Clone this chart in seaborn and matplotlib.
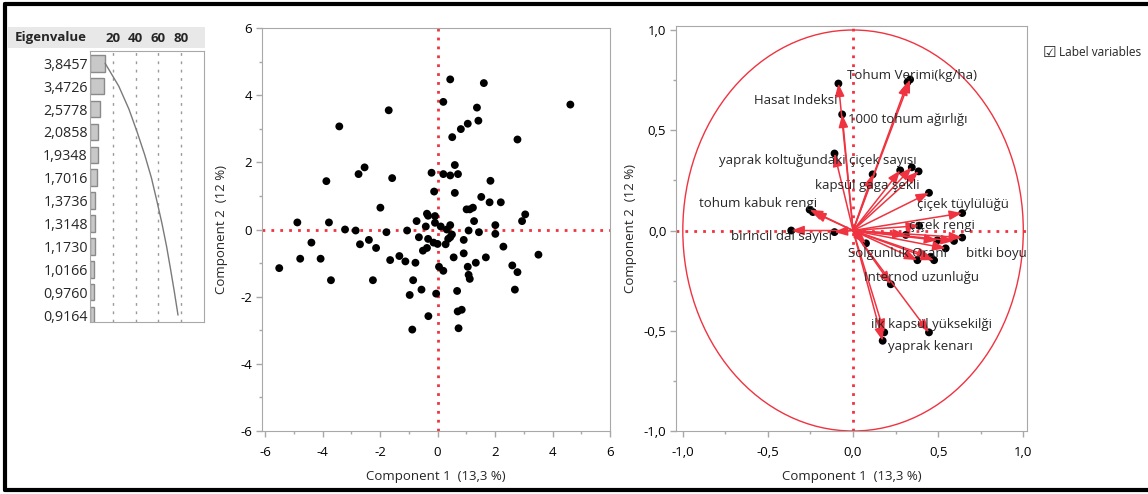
import numpy as np
import pandas as pd
import matplotlib
matplotlib.use("Agg")
import matplotlib.pyplot as plt
from matplotlib.patches import Ellipse, Rectangle
from matplotlib.lines import Line2D
from matplotlib.ticker import MultipleLocator, FuncFormatter
import seaborn as sns

# ---------------- data ----------------
eigenvalues = [3.8457, 3.4726, 2.5778, 2.0858, 1.9348, 1.7016,
               1.3736, 1.3148, 1.1730, 1.0166, 0.9760, 0.9164]
pct_ticks = [20, 40, 60, 80]

pc1 = [0.44, 1.61, 0.20, -1.70, 4.62, 1.37, -3.42, 1.05, 1.42, 0.81, 0.51, 2.78,
       -2.54, -2.75, 0.60, -0.21, 0.20, 0.44, 0.71, -3.87, -1.58, 1.84, -0.12,
       0.60, 1.52, 1.81, 2.20, -1.99, 1.01, 1.12, 1.23, -0.37, -0.33, -0.09,
       3.05, -4.88, -3.78, -0.73, -0.09, 1.27, 2.94, -0.41, 0.11, 0.44, 2.01,
       -3.22, -2.85, -1.78, -1.06, 0.32, 1.08, 1.44, 2.01, -4.39, -2.70, -2.39,
       -2.14, -0.65, -0.33, 0.37, 0.44, 0.50, -0.14, 0.00, 0.28, 0.91, -0.51,
       -0.37, 2.29, -4.78, -4.07, -5.51, -1.33, -1.65, -1.12, -0.77, 0.56,
       0.91, 1.68, 3.51, 1.33, 1.05, 0.05, 0.20, 2.60, 2.78, 1.08, 1.12, -3.71,
       -2.25, -0.85, -0.56, -0.97, -0.05, 0.68, 2.69, 0.70, 0.84, -0.32, 0.73,
       -0.88]
pc2 = [4.47, 4.36, 3.80, 3.55, 3.72, 3.63, 3.07, 3.15, 3.24, 2.99, 2.75, 2.68,
       1.85, 1.65, 1.92, 1.69, 1.65, 1.61, 1.65, 1.44, 1.53, 1.45, 1.13, 1.09,
       0.97, 0.81, 0.81, 0.65, 0.60, 0.60, 0.65, 0.47, 0.41, 0.40, 0.45, 0.21,
       0.21, 0.25, 0.20, 0.25, 0.25, 0.09, 0.09, 0.13, 0.13, 0.00, -0.03,
       -0.08, -0.03, 0.00, -0.03, -0.08, -0.13, -0.39, -0.44, -0.31, -0.55,
       -0.23, -0.28, -0.28, -0.23, -0.15, -0.39, -0.43, -0.44, -0.31, -0.63,
       -0.55, -0.51, -0.87, -0.87, -1.15, -0.79, -0.91, -0.95, -0.99, -0.83,
       -0.71, -0.83, -0.75, -0.99, -1.11, -1.11, -1.23, -1.07, -1.27, -1.35,
       -1.47, -1.51, -1.51, -1.51, -1.79, -1.95, -1.91, -1.83, -1.79, -2.44,
       -2.39, -2.58, -2.94, -2.98]

load1 = [-0.086, -0.064, 0.320, 0.335, -0.109, 0.277, 0.345, 0.385, 0.115,
         0.446, -0.255, -0.236, 0.641, -0.363, -0.109, 0.388, 0.310, 0.495,
         0.593, 0.641, 0.544, 0.378, 0.456, 0.476, 0.076, 0.222, 0.446, 0.174,
         0.183]
load2 = [0.733, 0.579, 0.740, 0.753, 0.384, 0.300, 0.315, 0.295, 0.280,
         0.188, 0.104, 0.092, 0.087, 0.000, -0.008, 0.024, -0.022, -0.049,
         -0.052, -0.035, -0.089, -0.148, -0.131, -0.148, -0.064, -0.268,
         -0.508, -0.550, -0.508]

var_names = {
    0: "Hasat Indeksi",
    1: "1000 tohum ağırlığı",
    3: "Tohum Verimi(kg/ha)",
    4: "yaprak koltuğundaki çiçek sayısı",
    8: "kapsül gaga şekli",
    9: "çiçek tüylülüğü",
    10: "tohum kabuk rengi",
    14: "birincil dal sayısı",
    15: "çiçek rengi",
    19: "bitki boyu",
    24: "Solgunluk Oranı",
    25: "Internod uzunluğu",
    26: "ilk kapsül yüksekilği",
    27: "yaprak kenarı",
}

# label placement (offset pixels from the point, alignment) – style only
label_place = {
    0: (-1, -17, "right"), 1: (6, -5, "left"), 3: (-63, 4, "left"),
    4: (-115, -7, "left"), 8: (-58, -11, "left"), 9: (-12, -12, "left"),
    10: (-111, 6, "left"), 14: (-103, -4, "left"), 15: (-10, 0, "left"),
    19: (4, -16, "left"), 24: (-18, -10, "left"), 25: (-27, 7, "left"),
    26: (-58, 8, "left"), 27: (5, -6, "left"),
}

# ---------------- style ----------------
sns.set_style("ticks")
plt.rcParams["font.family"] = ["Open Sans", "DejaVu Sans"]
plt.rcParams["axes.unicode_minus"] = False

RED = "#ef3340"
GRAY = "#a8a8a8"
FS = 9.5
W, H = 1148, 494

fig = plt.figure(figsize=(W / 100, H / 100), dpi=100)


def px_axes(l, t, r, b):
    return fig.add_axes([l / W, 1 - b / H, (r - l) / W, (b - t) / H])


def frac(x, y):
    return x / W, 1 - y / H


# outer border
for xs, ys in [((5, 1200), (4.5, 4.5)), ((5, 5), (4.5, 490)), ((5, 1200), (490, 490))]:
    fig.add_artist(Line2D([frac(x, 0)[0] for x in xs], [frac(0, y)[1] for y in ys],
                          color="black", lw=3, transform=fig.transFigure))

# ---------------- eigenvalue panel ----------------
fig.add_artist(Rectangle(frac(8, 48), 197 / W, 21 / H, transform=fig.transFigure,
                         facecolor="#e8e8e8", edgecolor="none", zorder=0))
n_vars = len(load1)
pct = [e / n_vars * 100 for e in eigenvalues]
cum = np.cumsum(pct)
eig_labels = [f"{e:.4f}".replace(".", ",") for e in eigenvalues]
eig_df = pd.DataFrame({"label": eig_labels, "pct": pct})

ax0 = px_axes(90, 50.7, 204, 321.7)
sns.barplot(data=eig_df, x="pct", y="label", orient="h", color="#c8c8c8",
            edgecolor="#8a8a8a", linewidth=1, saturation=1, width=0.72, ax=ax0)
ax0.plot(cum, np.arange(len(cum)), color="#7a7a7a", lw=1)
for p in pct_ticks:
    ax0.axvline(p, color="#9a9a9a", lw=1, ls=(0, (2, 4)), zorder=0)
ax0.set_xlim(0, 100)
ax0.set_ylim(len(eigenvalues) - 0.71, -0.55)
ax0.set_xlabel("")
ax0.set_ylabel("")
ax0.set_xticks([])
ax0.tick_params(axis="y", length=0, pad=1.5, labelsize=10.3)
for s in ax0.spines.values():
    s.set_color(GRAY)
    s.set_visible(True)
fig.text(15 / W, 1 - 38 / H, "Eigenvalue", fontsize=FS, fontweight="bold",
         ha="left", va="center")
for p in pct_ticks:
    ax0.text(p, 1.045, str(p), transform=ax0.get_xaxis_transform(), fontsize=FS,
             fontweight="bold", ha="center", va="center")


def style_axes(ax):
    for s in ax.spines.values():
        s.set_color(GRAY)
        s.set_visible(True)
    ax.tick_params(which="both", color=GRAY, labelcolor="black", labelsize=FS)
    ax.tick_params(which="major", length=4, width=1)
    ax.tick_params(which="minor", length=2.5, width=1)
    ax.tick_params(axis="x", pad=7)
    ax.tick_params(axis="y", pad=3)


# ---------------- score plot ----------------
ax1 = px_axes(261.7, 28, 610, 431)
sns.scatterplot(x=pc1, y=pc2, color="black", s=32, edgecolor="none", ax=ax1, zorder=3)
ax1.axvline(0, color=RED, lw=2, ls=(0, (1, 2.2)), zorder=2)
ax1.axhline(0, color=RED, lw=2, ls=(0, (1, 2.2)), zorder=2)
ax1.set_xlim(-6.12, 6.0)
ax1.set_ylim(-6, 6)
ax1.xaxis.set_major_locator(MultipleLocator(2))
ax1.xaxis.set_minor_locator(MultipleLocator(1))
ax1.yaxis.set_major_locator(MultipleLocator(2))
ax1.yaxis.set_minor_locator(MultipleLocator(1))
ax1.xaxis.set_major_formatter(FuncFormatter(lambda v, p: f"{v:.0f}"))
ax1.yaxis.set_major_formatter(FuncFormatter(lambda v, p: f"{v:.0f}"))
style_axes(ax1)
ax1.set_xlabel("Component 1  (13,3 %)", fontsize=FS)
ax1.set_ylabel("Component 2  (12 %)", fontsize=FS)
ax1.xaxis.set_label_coords(0.5, -0.097)
ax1.yaxis.set_label_coords(-0.097, 0.5)

# ---------------- loading plot ----------------
ax2 = px_axes(676, 26, 1026.7, 431)
ax2.add_patch(Ellipse((0, 0), 2, 2, fill=False, edgecolor=RED, lw=1, zorder=1))
ax2.axvline(0, color=RED, lw=2, ls=(0, (1, 2.2)), zorder=1)
ax2.axhline(0, color=RED, lw=2, ls=(0, (1, 2.2)), zorder=1)
sns.scatterplot(x=load1, y=load2, color="black", s=32, edgecolor="none", ax=ax2, zorder=3)
for x, y in zip(load1, load2):
    ax2.annotate("", xy=(x, y), xytext=(0, 0), zorder=4,
                 arrowprops=dict(arrowstyle="-|>,head_length=0.7,head_width=0.26",
                                 color=RED, lw=1.1, shrinkA=0, shrinkB=0,
                                 mutation_scale=11))
for i, name in var_names.items():
    dx, dy, ha = label_place[i]
    ax2.annotate(name, xy=(load1[i], load2[i]), xytext=(dx, dy),
                 textcoords="offset pixels", ha=ha, va="center", fontsize=FS,
                 zorder=5)
ax2.set_xlim(-1.04, 1.02)
ax2.set_ylim(-1.0, 1.02)
ax2.xaxis.set_major_locator(MultipleLocator(0.5))
ax2.xaxis.set_minor_locator(MultipleLocator(0.25))
ax2.yaxis.set_major_locator(MultipleLocator(0.5))
ax2.yaxis.set_minor_locator(MultipleLocator(0.25))
fmt = FuncFormatter(lambda v, p: f"{v:.1f}".replace(".", ","))
ax2.xaxis.set_major_formatter(fmt)
ax2.yaxis.set_major_formatter(fmt)
style_axes(ax2)
ax2.set_xlabel("Component 1  (13,3 %)", fontsize=FS)
ax2.set_ylabel("Component 2  (12 %)", fontsize=FS)
ax2.xaxis.set_label_coords(0.5, -0.097)
ax2.yaxis.set_label_coords(-0.111, 0.5)

# checkbox label
fig.text(1043 / W, 1 - 52 / H, "☑", fontsize=11, ha="left", va="center",
         family=["DejaVu Sans"])
fig.text(1059 / W, 1 - 52 / H, "Label variables", fontsize=8.6, ha="left",
         va="center")

fig.savefig("out.png", dpi=100)
